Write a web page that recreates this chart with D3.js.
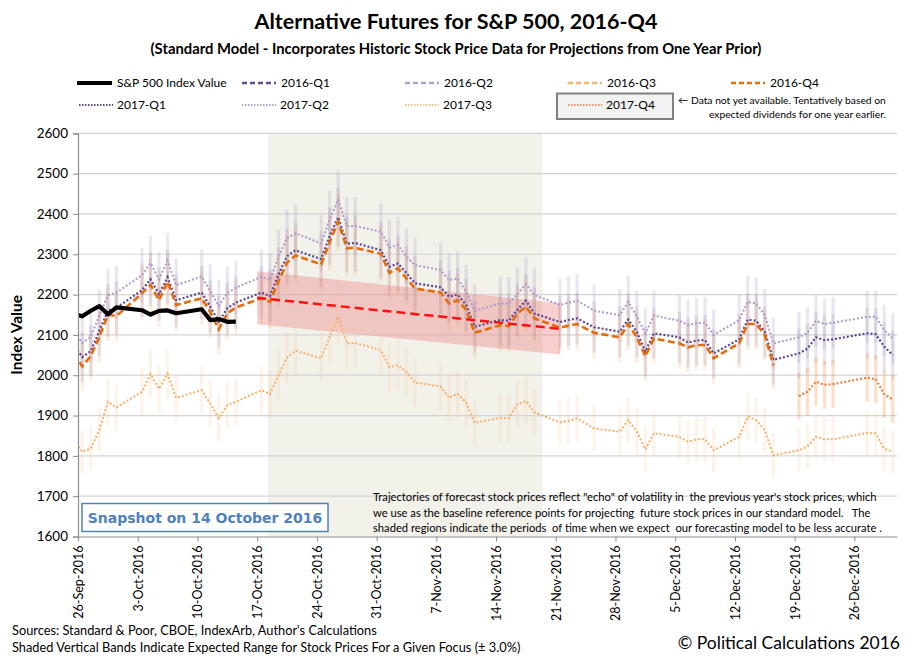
<!DOCTYPE html>
<html>
<head>
<meta charset="utf-8">
<script src="https://cdn.jsdelivr.net/npm/d3@7"></script>
<style>
  body { margin: 0; background: #fff; }
  svg { font-family: Lato, "Noto Sans", sans-serif; }
</style>
</head>
<body>
<svg width="913" height="662"></svg>
<script>
// trading days shown on the chart (Sep 23 is only there so the lines run in from the left edge)
const tradingDays = [
    "2016-09-23", "2016-09-26", "2016-09-27", "2016-09-28", "2016-09-29", "2016-09-30",
    "2016-10-03", "2016-10-04", "2016-10-05", "2016-10-06", "2016-10-07",
    "2016-10-10", "2016-10-11", "2016-10-12", "2016-10-13", "2016-10-14",
    "2016-10-17", "2016-10-18", "2016-10-19", "2016-10-20", "2016-10-21",
    "2016-10-24", "2016-10-25", "2016-10-26", "2016-10-27", "2016-10-28",
    "2016-10-31", "2016-11-01", "2016-11-02", "2016-11-03", "2016-11-04",
    "2016-11-07", "2016-11-08", "2016-11-09", "2016-11-10", "2016-11-11",
    "2016-11-14", "2016-11-15", "2016-11-16", "2016-11-17", "2016-11-18",
    "2016-11-21", "2016-11-22", "2016-11-23", "2016-11-25",
    "2016-11-28", "2016-11-29", "2016-11-30", "2016-12-01", "2016-12-02",
    "2016-12-05", "2016-12-06", "2016-12-07", "2016-12-08", "2016-12-09",
    "2016-12-12", "2016-12-13", "2016-12-14", "2016-12-15", "2016-12-16",
    "2016-12-19", "2016-12-20", "2016-12-21", "2016-12-22", "2016-12-23",
    "2016-12-27", "2016-12-28", "2016-12-29", "2016-12-30"
]

const sp500 = [
    2164.69, 2146.10, 2159.93, 2171.37, 2151.13, 2168.27,
    2161.20, 2150.49, 2159.73, 2160.77, 2153.74,
    2163.66, 2136.73, 2139.18, 2132.55, 2132.98
]

const q4_2016 = [
    2120, 2022, 2048, 2095, 2150, 2147,
    2203, 2224, 2186, 2232, 2174,
    2191, 2157, 2114, 2153, 2168,
    2191, 2182, 2233, 2279, 2297,
    2275, 2330, 2381, 2315, 2316,
    2301, 2254, 2265, 2240, 2215,
    2205, 2178, 2186, 2162, 2105,
    2124, 2122, 2153, 2170, 2141,
    2118, 2123, 2127, 2105,
    2094, 2127, 2094, 2047, 2091,
    2079, 2069, 2075, 2075, 2042,
    2079, 2127, 2127, 2100, 2025
]

const q1_2017 = [
    2135, 2045, 2060, 2110, 2160, 2167,
    2211, 2238, 2201, 2243, 2186,
    2205, 2170, 2133, 2166, 2180,
    2205, 2196, 2250, 2295, 2310,
    2288, 2345, 2392, 2326, 2328,
    2310, 2269, 2277, 2253, 2228,
    2218, 2195, 2200, 2174, 2120,
    2137, 2135, 2162, 2185, 2153,
    2132, 2137, 2141, 2119,
    2108, 2138, 2108, 2058, 2104,
    2094, 2081, 2086, 2087, 2054,
    2089, 2138, 2135, 2108, 2038,
    2054, 2066, 2094, 2087, 2089,
    2104, 2102, 2071, 2050
]

const q2_2017 = [
    2170, 2080, 2095, 2148, 2198, 2205,
    2248, 2278, 2238, 2284, 2223,
    2245, 2209, 2172, 2204, 2217,
    2244, 2236, 2292, 2340, 2352,
    2327, 2386, 2435, 2370, 2370,
    2356, 2317, 2323, 2294, 2273,
    2261, 2236, 2240, 2207, 2160,
    2178, 2178, 2201, 2226, 2199,
    2174, 2180, 2185, 2160,
    2149, 2182, 2145, 2104, 2148,
    2135, 2124, 2129, 2130, 2100,
    2137, 2182, 2178, 2149, 2079,
    2094, 2105, 2135, 2127, 2130,
    2145, 2145, 2112, 2091
]

const q3_2017 = [
    1895, 1810, 1818, 1864, 1934, 1920,
    1959, 2003, 1966, 2004, 1944,
    1963, 1930, 1893, 1926, 1934,
    1963, 1953, 2000, 2044, 2061,
    2042, 2095, 2145, 2079, 2080,
    2062, 2020, 2025, 2008, 1982,
    1972, 1944, 1954, 1932, 1882,
    1894, 1893, 1928, 1936, 1908,
    1883, 1887, 1893, 1868,
    1860, 1889, 1860, 1816, 1856,
    1847, 1835, 1841, 1841, 1814,
    1847, 1897, 1889, 1864, 1802,
    1814, 1823, 1847, 1841, 1841,
    1857, 1856, 1818, 1810
]

// 2017-Q4 only starts on 19 Dec
const q4_2017Start = "2016-12-19"
const q4_2017 = [1948, 1959, 1984, 1976, 1978, 1994, 1990, 1953, 1940]

// red trend between the two reference points and its +/- 3% band
const trendDates = ["2016-10-17T00:00", "2016-11-21T12:00"]
const trendValues = [2192, 2115]
const shadeDates = ["2016-10-18T07:00", "2016-11-19T10:00"]

const yTicks = [1600, 1700, 1800, 1900, 2000, 2100, 2200, 2300, 2400, 2500, 2600]
const bandPct = 0.03

const legendItems = [
    { name: "S&P 500 Index Value", color: "#000", dash: null, width: 4 },
    { name: "2016-Q1", color: "#5f4b8b", dash: "5,3", width: 2.5 },
    { name: "2016-Q2", color: "#b3a2c7", dash: "5,3", width: 2.5 },
    { name: "2016-Q3", color: "#fab46e", dash: "5,3", width: 2.5 },
    { name: "2016-Q4", color: "#e46c0a", dash: "5,3", width: 2.5 },
    { name: "2017-Q1", color: "#604a7b", dash: "1.5,1.5", width: 1.8 },
    { name: "2017-Q2", color: "#b3a2c7", dash: "1.5,1.5", width: 1.8 },
    { name: "2017-Q3", color: "#fac090", dash: "1.5,1.5", width: 1.8 },
    { name: "2017-Q4", color: "#f0905a", dash: "1.5,1.5", width: 1.8 }
]

const parseDay = d3.timeParse("%Y-%m-%d")
const parseTime = d3.timeParse("%Y-%m-%dT%H:%M")
const noon = s => d3.timeHour.offset(parseDay(s), 12)

const svg = d3.select("svg")

const margin = { top: 133.3, right: 16, bottom: 125.5, left: 78 },
    width = 913,
    height = 662

const x = d3.scaleTime()
    .domain([new Date(2016, 8, 26), new Date(2016, 11, 31)])
    .range([margin.left, width - margin.right])

const y = d3.scaleLinear()
    .domain([1600, 2600])
    .range([height - margin.bottom, margin.top])

const toPoints = (values, start) => {
    const i0 = tradingDays.indexOf(start)
    return values.map((v, i) => ({ date: noon(tradingDays[i0 + i]), value: v }))
}

const series = [
    { key: "2017-Q3", points: toPoints(q3_2017, tradingDays[0]), color: "#f7b06a", dash: "2,2", width: 2, band: "#fbc99a", bandOp: 0.22 },
    { key: "2017-Q2", points: toPoints(q2_2017, tradingDays[0]), color: "#ab9bcf", dash: "2,2", width: 2, band: "#b3a2c7", bandOp: 0.26 },
    { key: "2017-Q1", points: toPoints(q1_2017, tradingDays[0]), color: "#5e4594", dash: "2,2", width: 2.2, band: "#9a86b8", bandOp: 0.22 },
    { key: "2017-Q4", points: toPoints(q4_2017, q4_2017Start), color: "#ec8040", dash: "2,2", width: 2.2, band: "#f29a5e", bandOp: 0.32 },
    { key: "2016-Q4", points: toPoints(q4_2016, tradingDays[0]), color: "#e46c0a", dash: "7,3.5", width: 2.6, band: "#f0a868", bandOp: 0.2 }
]

const sp500Points = toPoints(sp500, tradingDays[0])

// clip to the plot area
svg.append("defs").append("clipPath").attr("id", "plot")
    .append("rect")
    .attr("x", margin.left).attr("y", margin.top - 2)
    .attr("width", width - margin.right - margin.left)
    .attr("height", height - margin.bottom - margin.top + 2)

const plot = svg.append("g").attr("clip-path", "url(#plot)")

// less accurate period
plot.append("rect")
    .attr("x", x(parseTime(shadeDates[0])))
    .attr("y", y(2600))
    .attr("width", x(parseTime(shadeDates[1])) - x(parseTime(shadeDates[0])))
    .attr("height", y(1600) - y(2600))
    .attr("fill", "#f2f1ea")

// grid
plot.append("g")
    .selectAll("line")
    .data(yTicks.slice(1))
    .enter().append("line")
    .attr("x1", margin.left).attr("x2", width - margin.right)
    .attr("y1", d => y(d)).attr("y2", d => y(d))
    .attr("stroke", "#d4d4d4").attr("stroke-width", 1.2)

// trend band
const trendPts = trendDates.map((d, i) => ({ date: parseTime(d), value: trendValues[i] }))
plot.append("path")
    .attr("d", d3.area()
        .x(d => x(d.date))
        .y0(d => y(d.value * (1 - bandPct)))
        .y1(d => y(d.value * (1 + bandPct)))(trendPts))
    .attr("fill", "#ee8a8a").attr("fill-opacity", 0.42)

// expected range bands
series.forEach(s => {
    plot.append("g")
        .selectAll("rect")
        .data(s.points)
        .enter().append("rect")
        .attr("x", d => x(d.date) - 1.6)
        .attr("width", 3.2)
        .attr("y", d => y(d.value * (1 + bandPct)))
        .attr("height", d => y(d.value * (1 - bandPct)) - y(d.value * (1 + bandPct)))
        .attr("fill", s.band).attr("fill-opacity", s.bandOp)
})

const line = d3.line().x(d => x(d.date)).y(d => y(d.value))

series.forEach(s => {
    plot.append("path")
        .attr("d", line(s.points))
        .attr("fill", "none")
        .attr("stroke", s.color)
        .attr("stroke-width", s.width)
        .attr("stroke-dasharray", s.dash)
})

plot.append("path")
    .attr("d", line(trendPts))
    .attr("fill", "none")
    .attr("stroke", "#ff1010").attr("stroke-width", 2.5)
    .attr("stroke-dasharray", "9,5")

plot.append("path")
    .attr("d", line(sp500Points))
    .attr("fill", "none")
    .attr("stroke", "#000").attr("stroke-width", 4.2)
    .attr("stroke-linejoin", "round")

// axes
const yAxis = svg.append("g")
    .attr("transform", `translate(${margin.left},0)`)
    .call(d3.axisLeft(y).tickValues(yTicks).tickSize(5).tickFormat(d3.format("d")))
yAxis.select(".domain").attr("stroke", "#8c8c8c").attr("stroke-width", 1.2)
yAxis.selectAll(".tick line").attr("stroke", "#8c8c8c")
yAxis.selectAll(".tick text")
    .attr("font-family", "Lato, sans-serif").attr("font-size", 13.5).attr("fill", "#000").attr("x", -10)

const xAxis = svg.append("g")
    .attr("transform", `translate(0,${y(1600)})`)
    .call(d3.axisBottom(x).ticks(d3.timeMonday.every(1)).tickSize(5).tickSizeOuter(0)
        .tickFormat(d3.timeFormat("%-d-%b-%Y")))
xAxis.select(".domain").attr("stroke", "#8c8c8c").attr("stroke-width", 1.2)
xAxis.selectAll(".tick line").attr("stroke", "#8c8c8c")
xAxis.selectAll(".tick text")
    .attr("font-family", "Lato, sans-serif").attr("font-size", 12.5).attr("fill", "#000")
    .attr("transform", "rotate(-90)")
    .attr("text-anchor", "end")
    .attr("x", -9).attr("y", 0).attr("dy", "0.35em")

svg.append("text")
    .attr("transform", `translate(22,${(y(1600) + y(2600)) / 2}) rotate(-90)`)
    .attr("text-anchor", "middle")
    .attr("font-size", 15.5).attr("font-weight", "bold")
    .text("Index Value")

// titles
svg.append("text")
    .attr("x", 456).attr("y", 29)
    .attr("text-anchor", "middle")
    .attr("font-size", 21.5).attr("font-weight", "bold")
    .text("Alternative Futures for S&P 500, 2016-Q4")

svg.append("text")
    .attr("x", 456).attr("y", 54)
    .attr("text-anchor", "middle")
    .attr("font-size", 14.8).attr("font-weight", "bold")
    .text("(Standard Model - Incorporates Historic Stock Price Data for Projections from One Year Prior)")

// legend
svg.append("rect")
    .attr("x", 557).attr("y", 93.5).attr("width", 116).attr("height", 25.5)
    .attr("fill", "#f2f2f2").attr("stroke", "#808080").attr("stroke-width", 2)

const legend = svg.append("g")
    .selectAll("g")
    .data(legendItems)
    .enter().append("g")
    .attr("transform", (d, i) => {
        const col = i < 5 ? i : i - 5,
            row = i < 5 ? 0 : 1
        return `translate(${77 + col * 163},${row === 0 ? 83 : 105})`
    })

legend.append("line")
    .attr("x1", (d, i) => i === 0 ? 0 : 2).attr("x2", (d, i) => i === 0 ? 35 : 36)
    .attr("y1", 0).attr("y2", 0)
    .attr("stroke", d => d.color)
    .attr("stroke-width", d => d.width)
    .attr("stroke-dasharray", d => d.dash)

legend.append("text")
    .attr("x", (d, i) => i === 0 ? 40 : (i < 5 ? 41 : 40))
    .attr("dy", "0.36em")
    .attr("font-size", 12)
    .text(d => d.name)

svg.append("text")
    .attr("x", 678).attr("y", 104)
    .attr("font-size", 10.3)
    .text("\u2190 Data not yet available.  Tentatively based on")

svg.append("text")
    .attr("x", 886).attr("y", 118)
    .attr("text-anchor", "end")
    .attr("font-size", 10.3)
    .text("expected dividends for one year earlier.")

// snapshot box
svg.append("rect")
    .attr("x", 82).attr("y", 503.5).attr("width", 246).attr("height", 28)
    .attr("fill", "#fff").attr("stroke", "#4f81bd").attr("stroke-width", 1.5)

svg.append("text")
    .attr("x", 205).attr("y", 523)
    .attr("text-anchor", "middle")
    .attr("font-family", "'DejaVu Sans', Verdana, sans-serif")
    .attr("font-size", 14).attr("font-weight", "bold")
    .attr("fill", "#4f81bd")
    .text("Snapshot on 14 October 2016")

// note
const note = [
    "Trajectories of forecast stock prices reflect \"echo\" of volatility in  the previous year's stock prices, which",
    "we use as the baseline reference points for projecting  future stock prices in our standard model.   The",
    "shaded regions indicate the periods  of time when we expect  our forecasting model to be less accurate ."
]
svg.append("g")
    .selectAll("text")
    .data(note)
    .enter().append("text")
    .attr("x", 373).attr("y", (d, i) => 501 + i * 15.5)
    .attr("font-size", 11.2)
    .attr("xml:space", "preserve")
    .style("white-space", "pre")
    .text(d => d)

// footer
svg.append("text")
    .attr("x", 12).attr("y", 635)
    .attr("font-size", 12.8)
    .text("Sources: Standard & Poor, CBOE, IndexArb, Author's Calculations")

svg.append("text")
    .attr("x", 12).attr("y", 652)
    .attr("font-size", 12.8)
    .text("Shaded Vertical Bands Indicate Expected Range for Stock Prices For a Given Focus (\u00b1 3.0%)")

svg.append("text")
    .attr("x", 900).attr("y", 649)
    .attr("text-anchor", "end")
    .attr("font-size", 17.5)
    .text("\u00a9 Political Calculations 2016")
</script>
</body>
</html>
